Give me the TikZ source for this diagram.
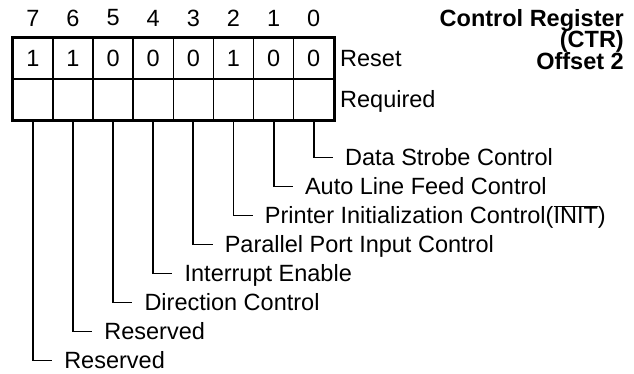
\documentclass[tikz,border=0pt]{standalone}
\usepackage{fontspec}
\setmainfont{Liberation Sans}
\usetikzlibrary{calc}
\begin{document}
\begin{tikzpicture}[x=1pt,y=-1pt,
  cell/.style={draw, line width=1.6pt, minimum width=40.125pt, minimum height=41pt, inner sep=0pt, anchor=north west},
  lbl/.style={font=\fontsize{23.5}{27}\selectfont, inner sep=0pt},
  ttl/.style={font=\bfseries\fontsize{23.5}{21}\selectfont, inner sep=0pt, anchor=base east},
  wire/.style={line width=1.8pt}]
\useasboundingbox (0,0) rectangle (634,373);
% table cells
\foreach \k/\v in {0/1,1/1,2/0,3/0,4/0,5/1,6/0,7/0} {
  \pgfmathtruncatemacro\b{7-\k}
  \node[cell] (v\b) at ({12+40.125*\k},37) {};
  \node[lbl] (t\b) at (v\b.center) {\v};
  \node[cell] (r\b) at ({12+40.125*\k},78) {};
  \node[lbl] (n\b) at ($(v\b.north)+(0,-19)$) {\b};
}
\draw[line width=3pt] (v7.north west) rectangle (r0.south east);
% row labels
\node[lbl, anchor=base west] (reset) at (340,66) {Reset};
\node[lbl, anchor=base west] (req) at (340,107) {Required};
% title
\node[ttl] (ttl1) at (624,26) {Control Register};
\node[ttl] (ttl2) at (624,47.5) {(CTR)};
\node[ttl] (ttl3) at (624,69) {Offset 2};
% field descriptions
\foreach \b/\txt in {0/Data Strobe Control,
                     1/Auto Line Feed Control,
                     2/{Printer Initialization Control($\overline{\hbox{INIT}}$)},
                     3/Parallel Port Input Control,
                     4/Interrupt Enable,
                     5/Direction Control,
                     6/Reserved,
                     7/Reserved} {
  \pgfmathsetmacro\xx{12+40.125*(7-\b)+20.06}
  \pgfmathsetmacro\yy{157.5+29*\b}
  \coordinate (e\b) at ({\xx+20},\yy);
  \node[lbl, anchor=base west] (d\b) at ({\xx+32},{\yy+8.3}) {\txt};
  \draw[wire] (r\b.south) |- (e\b);
}
\end{tikzpicture}
\end{document}
